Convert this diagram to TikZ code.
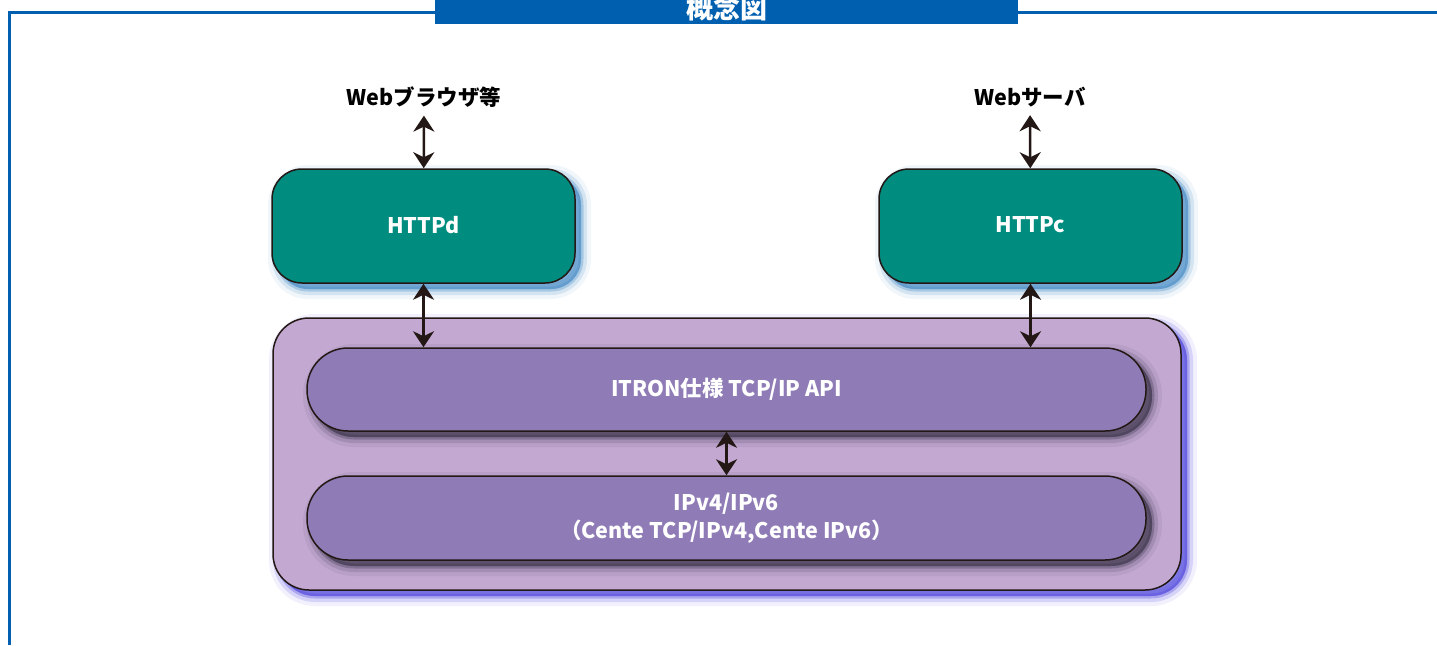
\documentclass[tikz,border=0pt]{standalone}
\usepackage{fontspec}
\setmainfont{Noto Sans CJK JP}
\usetikzlibrary{arrows.meta,shadows}

\definecolor{frameblue}{HTML}{005FAF}
\definecolor{httpgreen}{HTML}{008C7F}
\definecolor{stacklilac}{HTML}{C3A9D2}
\definecolor{layerpurple}{HTML}{8F7CB6}
\definecolor{inkblack}{HTML}{231815}

\begin{document}
\begin{tikzpicture}[x=1pt,y=-1pt,
    every node/.style={font=\fontsize{21.5}{28}\selectfont\bfseries,inner sep=0pt},
    glow/.style={
      general shadow={fill=#1,fill opacity=.3,draw=#1,draw opacity=.08,line width=20pt,shadow xshift=6pt,shadow yshift=-6pt},
      general shadow={fill=#1,fill opacity=.3,draw=#1,draw opacity=.16,line width=12pt,shadow xshift=6pt,shadow yshift=-6pt},
      general shadow={fill=#1,fill opacity=.3,draw=#1,draw opacity=.3,line width=5pt,shadow xshift=6pt,shadow yshift=-6pt}},
    httpbox/.style={glow=frameblue!75,
      draw=inkblack,line width=1.5pt,fill=httpgreen,text=white,
      rounded corners=30pt,minimum width=303pt,minimum height=114pt},
    layer/.style={glow=black!60!layerpurple,
      draw=inkblack,line width=1.5pt,fill=layerpurple,text=white,align=center,
      rounded corners=41pt,minimum width=839pt,minimum height=83pt},
    biarrow/.style={{Stealth[length=16pt,width=21pt,inset=5pt]}-{Stealth[length=16pt,width=21pt,inset=5pt]},
      draw=inkblack,line width=2.5pt}]
\clip (0,0) rectangle (1437,645);
\useasboundingbox (0,0) rectangle (1437,645);

% frame and title
\draw[frameblue,line width=3pt] (9,645) -- (9,12) -- (1437,12);
\fill[frameblue] (435,-2) rectangle (1018,24);
\node[text=white,font=\fontsize{27}{30}\selectfont\bfseries] (title) at (727,8) {概念図};

% end points
\node (browser) at (424,97) {Webブラウザ等};
\node (server) at (1030,97) {Webサーバ};

% http boxes
\node[httpbox] (httpd) at (423.5,226) {\raisebox{3pt}{HTTPd}};
\node[httpbox] (httpc) at (1030.5,226) {\raisebox{3pt}{HTTPc}};

% protocol stack
\node[glow=blue!50!layerpurple,draw=inkblack,line width=1.5pt,fill=stacklilac,rounded corners=36pt,
  minimum width=908pt,minimum height=272pt]
  (stack) at (727,454) {};
\node[layer] (api) at (726.5,389.5) {ITRON仕様 TCP/IP API};
\node[layer,minimum height=84pt] (ipv) at (726.5,518) {IPv4/IPv6\\（Cente TCP/IPv4,Cente IPv6）};

% connections
\foreach \from/\to in {browser/httpd,server/httpc}
  \draw[biarrow,shorten <=8pt] (\from) -- (\to);
\foreach \http in {httpd,httpc}
  \draw[biarrow] (\http.south) -- (\http.south |- api.north);
\draw[biarrow] (api) -- (ipv);

\end{tikzpicture}
\end{document}
